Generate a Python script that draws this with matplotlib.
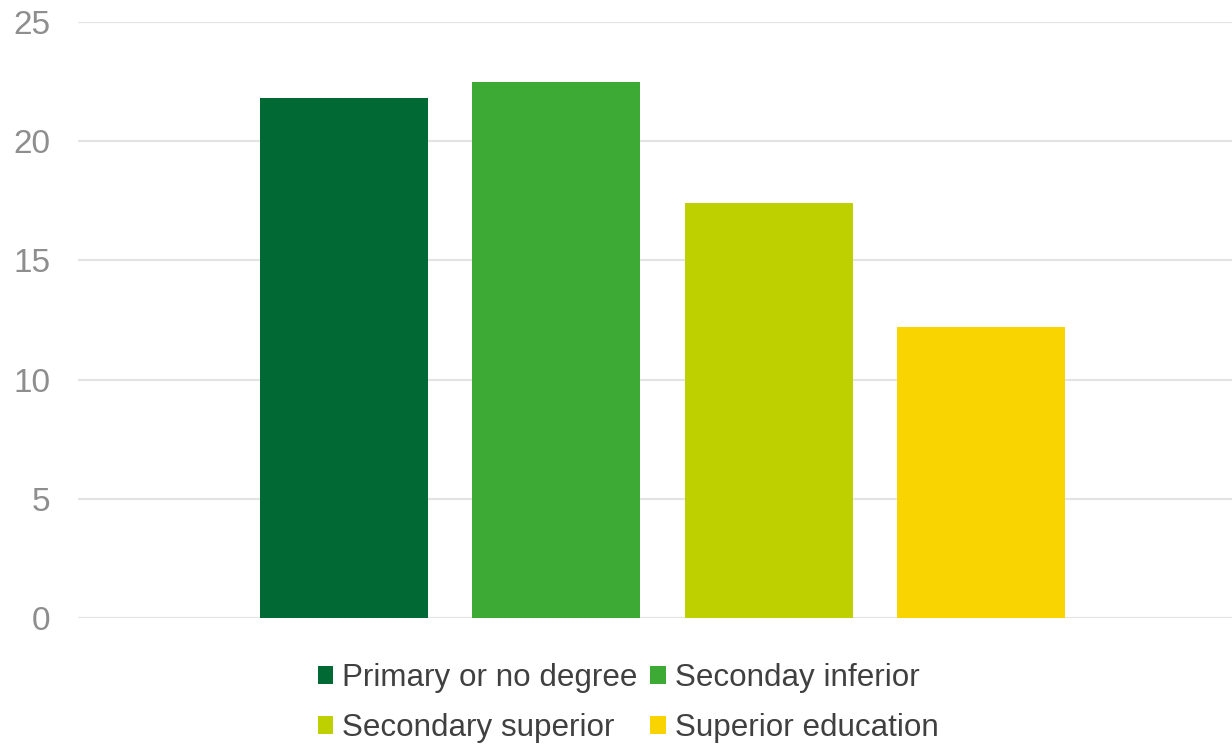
import matplotlib
matplotlib.use("Agg")
import matplotlib.pyplot as plt
from matplotlib.patches import Patch

categories = ["Primary or no degree", "Seconday inferior", "Secondary superior", "Superior education"]
values = [21.8, 22.5, 17.4, 12.2]
colors = ["#006934", "#3DAA35", "#BED000", "#F9D400"]
yticks = [0, 5, 10, 15, 20, 25]

plt.rcParams['font.family'] = ['Liberation Sans', 'DejaVu Sans']

fig = plt.figure(figsize=(12.32, 7.44), dpi=100)
ax = fig.add_axes([78/1232, (744-618)/744, 1 - 78/1232, (618-22)/744])

x = list(range(len(values)))
ax.bar(x, values, width=0.79, color=colors, zorder=2)
ax.set_xlim(-1.252, 4.181)
ax.set_ylim(0, 25)
ax.set_yticks(yticks)
ax.set_yticklabels([str(t) for t in yticks])
ax.set_xticks([])
ax.grid(axis='y', color='#e3e3e3', linewidth=1.5, zorder=0)
for s in ax.spines.values():
    s.set_visible(False)
ax.tick_params(axis='y', length=0, pad=20, labelsize=24, labelcolor='#8e8e8e')

handles = [Patch(facecolor=c, edgecolor='none') for c in colors]
order = [0, 2, 1, 3]
leg = fig.legend([handles[i] for i in order], [categories[i] for i in order],
                 ncol=2, loc='center', bbox_to_anchor=(628/1232, 1 - 703/744),
                 frameon=False, fontsize=22.6, labelcolor='#404040',
                 handlelength=0.5, handleheight=0.5, handletextpad=0.28,
                 columnspacing=0.4, labelspacing=0.65, borderpad=0)

fig.savefig("out.png", dpi=100)
